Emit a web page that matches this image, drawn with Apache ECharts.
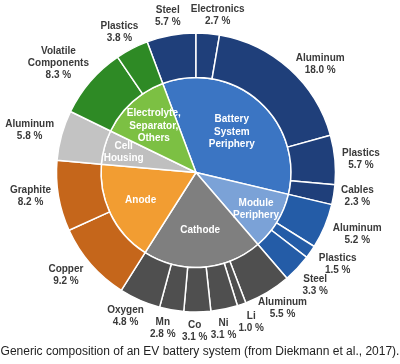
<!DOCTYPE html>
<html><head><meta charset="utf-8">
<script src="https://cdn.jsdelivr.net/npm/echarts@6/dist/echarts.min.js"></script>
<style>html,body{margin:0;padding:0;background:#fff}#c{width:400px;height:364px}</style>
</head><body><div id="c"></div>
<script>
// ---- data ----
const groupNames = ['Battery\nSystem\nPeriphery', 'Module\nPeriphery', 'Cathode', 'Anode', 'Cell\nHousing', 'Electrolyte,\nSeparator,\nOthers'];
const componentNames = ['Steel', 'Electronics', 'Aluminum', 'Plastics', 'Cables',
  'Aluminum', 'Plastics', 'Steel',
  'Aluminum', 'Li', 'Ni', 'Co', 'Mn', 'Oxygen',
  'Copper', 'Graphite',
  'Aluminum',
  'Volatile\nComponents', 'Plastics'];
const componentValues = [5.7, 2.7, 18.0, 5.7, 2.3,
  5.2, 1.5, 3.3,
  5.5, 1.0, 3.1, 3.1, 2.8, 4.8,
  9.2, 8.2,
  5.8,
  8.3, 3.8];
const componentGroup = [0,0,0,0,0, 1,1,1, 2,2,2,2,2,2, 3,3, 4, 5,5];

// ---- styles / label layout tweaks ----
const innerColors = ['#3b75c3', '#7ba2d7', '#7f7f7f', '#f29d32', '#bfbfbf', '#7cc043'];
const outerColors = ['#1f3f7a', '#245ca7', '#4f4f4f', '#c5661b', '#c3c3c3', '#2e8a25'];
const innerLabelRatio = [0.57, 0.74, 0.61, 0.65, 0.79, 0.66];
const outerLabelAngleShift = [0, 3, 6.8, 0.8, -0.9, -1.7, -1.9, 0, -1.8, -1.2, 1.7, 1, 2, 2.4, 2.7, 1.4, -1.1, -2.5, -1.2];
const FONT = '"Liberation Sans", Arial, sans-serif';
const CX = 196, CY = 172.5, R0 = 95, R1 = 139.5, GAP = 7;

const groupValues = groupNames.map((_, g) =>
  +componentValues.reduce((s, v, i) => s + (componentGroup[i] === g ? v : 0), 0).toFixed(2));

const innerData = groupNames.map((n, i) => ({ name: n, value: groupValues[i], itemStyle: { color: innerColors[i] } }));
const outerData = componentNames.map((n, i) => ({ name: n, value: componentValues[i], itemStyle: { color: outerColors[componentGroup[i]] } }));

const startAngle = 90 + componentValues[0] / 100 * 360;

function dirOf(r) {
  const cx = r.x + r.width / 2, cy = r.y + r.height / 2;
  const dx = cx - CX, dy = cy - CY, d = Math.hypot(dx, dy) || 1;
  return [dx / d, dy / d];
}
function outerLayout(p) {
  const r = p.labelRect; let [ux, uy] = dirOf(r);
  const t = (outerLabelAngleShift[p.dataIndex] || 0) * Math.PI / 180;
  const ux2 = ux * Math.cos(t) - uy * Math.sin(t), uy2 = ux * Math.sin(t) + uy * Math.cos(t);
  ux = ux2; uy = uy2;
  const ext = Math.min(r.width / 2 / Math.max(Math.abs(ux), 1e-6), r.height / 2 / Math.max(Math.abs(uy), 1e-6));
  const dist = R1 + GAP + ext;
  return { x: CX + ux * dist, y: CY + uy * dist, align: 'center', verticalAlign: 'middle' };
}
function innerLayout(p) {
  const r = p.labelRect; const [ux, uy] = dirOf(r);
  const dist = R0 * innerLabelRatio[p.dataIndex];
  return { x: CX + ux * dist, y: CY + uy * dist, align: 'center', verticalAlign: 'middle' };
}

const chart = echarts.init(document.getElementById('c'), null, { renderer: 'canvas' });
chart.setOption({
  backgroundColor: '#fff',
  animation: false,
  title: {
    text: 'Generic composition of an EV battery system (from Diekmann et al., 2017).',
    left: 'center', top: 346, padding: 0,
    textStyle: { fontFamily: FONT, fontSize: 12, fontWeight: 'normal', color: '#222' }
  },
  series: [
    {
      type: 'pie', center: [CX, CY], radius: [0, R0], startAngle: startAngle, clockwise: true,
      avoidLabelOverlap: false, silent: true,
      itemStyle: { borderColor: '#fff', borderWidth: 1.5 },
      label: { show: true, position: 'inside', formatter: '{b}', color: '#fff', fontFamily: FONT, fontSize: 10, fontWeight: 'bold', lineHeight: 12.5 },
      labelLine: { show: false },
      labelLayout: innerLayout,
      data: innerData
    },
    {
      type: 'pie', center: [CX, CY], radius: [R0, R1], startAngle: startAngle, clockwise: true,
      avoidLabelOverlap: false, silent: true,
      itemStyle: { borderColor: '#fff', borderWidth: 1.5 },
      label: {
        show: true, position: 'inside', color: '#3a3a3a', fontFamily: FONT, fontSize: 10, fontWeight: 'bold', lineHeight: 12,
        formatter: p => p.name + '\n' + p.value.toFixed(1) + ' %'
      },
      labelLine: { show: false },
      labelLayout: outerLayout,
      data: outerData
    }
  ]
});
</script></body></html>
